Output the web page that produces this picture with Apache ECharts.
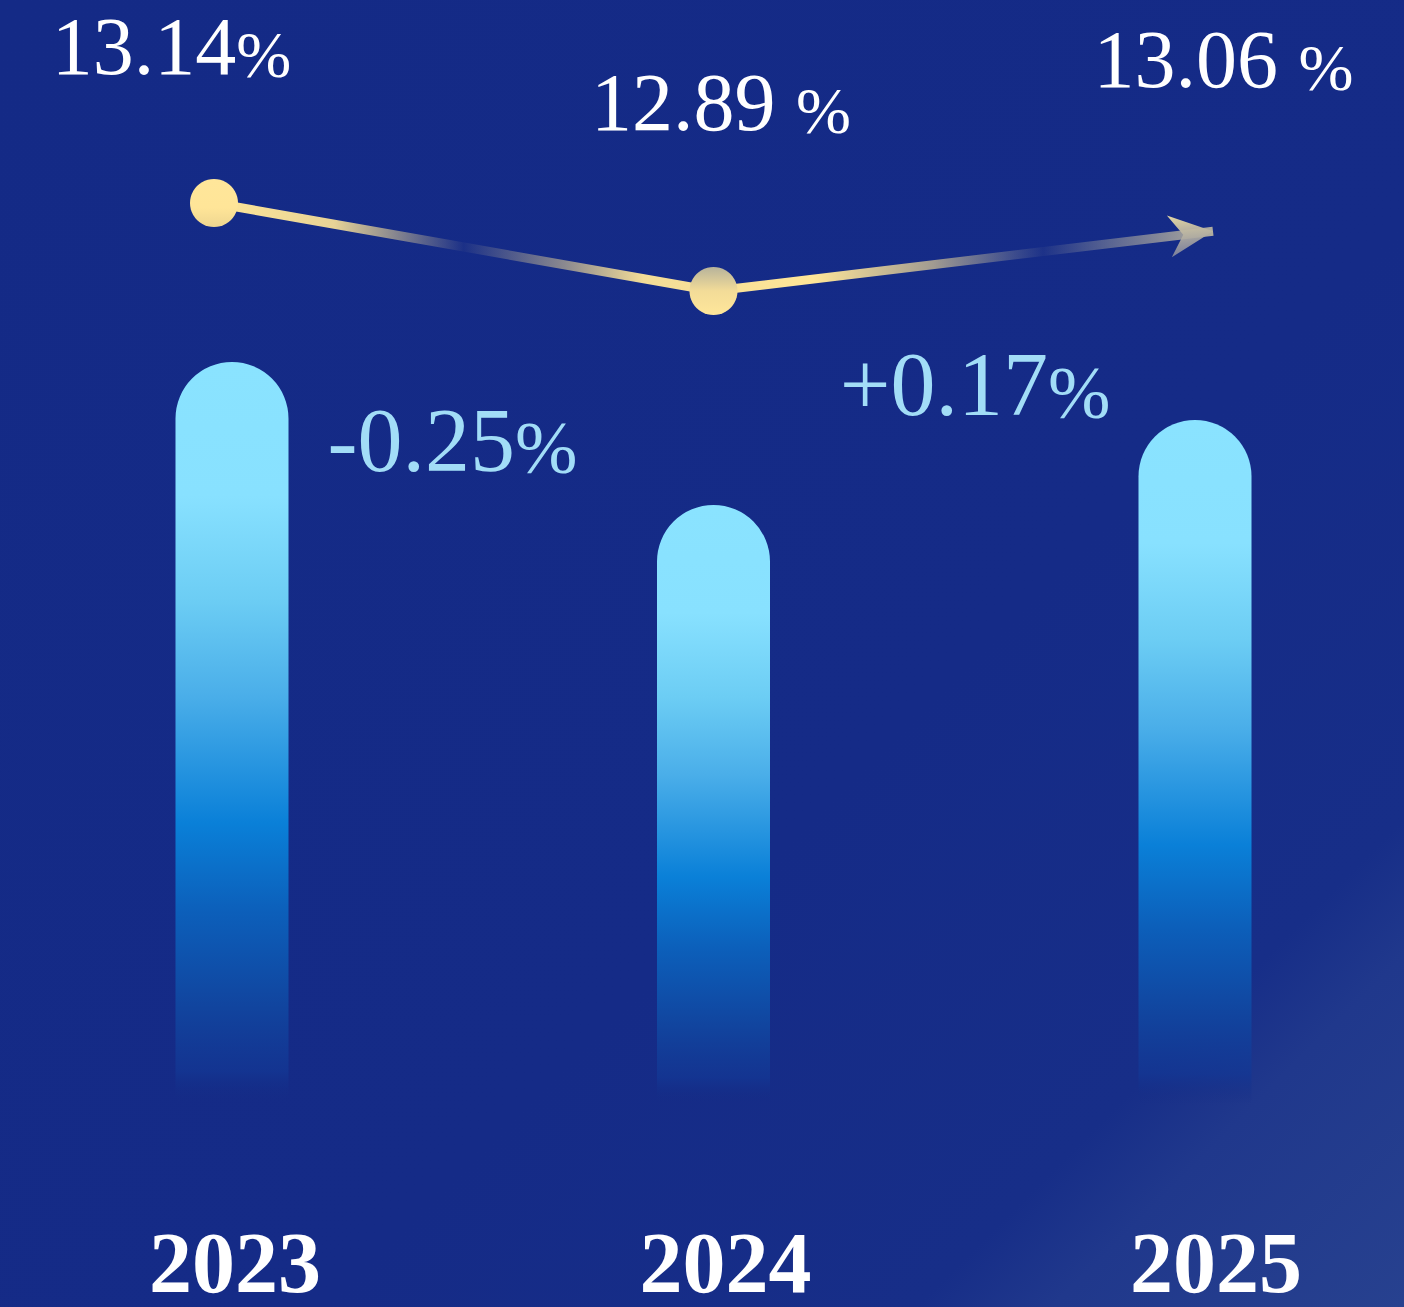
<!DOCTYPE html>
<html><head><meta charset="utf-8">
<script src="https://cdn.jsdelivr.net/npm/echarts@6/dist/echarts.min.js"></script>
<style>
html,body{margin:0;padding:0;width:1404px;height:1307px;overflow:hidden;}
#c{width:1404px;height:1307px;background:linear-gradient(135deg,#142a86 0%,#152b87 60%,#172e88 82%,#20388c 87%,#27418f 100%);}
</style></head><body><div id="c"></div>
<script>
// ---- data ----
const years = ['2023', '2024', '2025'];
const rates = [13.14, 12.89, 13.06];          // line values (%)
const rateGaps = ['', ' ', ' '];               // spacing before "%" as printed
const barHeights = [100, 80.75, 92.2];         // relative bar heights (index)
const changes = [null, -0.25, 0.17];           // change vs previous year (%)

const FONT = "'Times New Roman','Liberation Serif',serif";
const chart = echarts.init(document.getElementById('c'), null, {renderer: 'svg', width: 1404, height: 1307});

const barGrad = {type: 'linear', x: 0, y: 0, x2: 0, y2: 1, colorStops: [
  {offset: 0, color: '#8ae3ff'}, {offset: 0.18, color: '#88e1ff'},
  {offset: 0.32, color: '#6ccdf4'}, {offset: 0.45, color: '#4aaee9'},
  {offset: 0.62, color: '#0a80d8'}, {offset: 0.74, color: '#0c5fba'},
  {offset: 0.87, color: '#11449e'}, {offset: 0.955, color: 'rgba(19,55,148,0.75)'},
  {offset: 0.99, color: 'rgba(20,45,135,0.15)'}, {offset: 1, color: 'rgba(20,45,135,0)'}]};

const lineGrad = {type: 'linear', x: 214, y: 0, x2: 1213, y2: 0, global: true, colorStops: [
  {offset: 0, color: 'rgba(255,230,152,1)'}, {offset: 0.12, color: 'rgba(255,230,152,0.9)'},
  {offset: 0.25, color: 'rgba(255,230,152,0.03)'}, {offset: 0.35, color: 'rgba(255,230,152,0.5)'},
  {offset: 0.43, color: 'rgba(255,230,152,0.95)'}, {offset: 0.6, color: 'rgba(255,230,152,1)'},
  {offset: 0.72, color: 'rgba(255,230,152,0.6)'}, {offset: 0.83, color: 'rgba(230,220,170,0.04)'},
  {offset: 0.93, color: 'rgba(215,205,165,0.5)'}, {offset: 1, color: 'rgba(215,205,165,0.8)'}]};

const dotColors = [
  {type: 'linear', x: 0, y: 0, x2: 0, y2: 1, colorStops: [{offset: 0, color: '#ffe69a'}, {offset: 0.6, color: '#ffe598'}, {offset: 1, color: '#eed690'}]},
  {type: 'linear', x: 0, y: 0, x2: 0, y2: 1, colorStops: [{offset: 0, color: '#b7b39b'}, {offset: 0.5, color: '#f3dc98'}, {offset: 1, color: '#ffe69a'}]},
  {type: 'linear', x: 0, y: 0, x2: 0, y2: 1, colorStops: [{offset: 0, color: '#e6d9a4'}, {offset: 1, color: 'rgba(140,142,160,0.85)'}]}
];
const arrowPath = 'path://M0,0 L44,21 L0,42 L14,21 Z';
const lineLabelOffsets = [[-42.5, -156.5], [7.5, -188.5], [32.3, -173.8]];
const barLabelOffsets = [[0, 0], [-261, -20], [-220, 10]];

const rateRich = {
  n: {fontFamily: FONT, fontSize: 82, lineHeight: 82, color: '#ffffff'},
  p: {fontFamily: FONT, fontSize: 66, lineHeight: 66, verticalAlign: 'bottom', color: '#ffffff'}
};
const changeRich = {
  n: {fontFamily: FONT, fontSize: 90, lineHeight: 90, color: '#a2ddf7'},
  p: {fontFamily: FONT, fontSize: 75, lineHeight: 75, verticalAlign: 'bottom', color: '#a2ddf7'}
};

const hiddenAxis = (type, gi, extra) => Object.assign({
  type: type, gridIndex: gi, show: false,
  axisLine: {show: false}, axisTick: {show: false}, axisLabel: {show: false}, splitLine: {show: false}
}, extra || {});

chart.setOption({
  animation: false,
  backgroundColor: 'transparent',
  grid: [
    {left: -8.75, width: 1444.5, top: 362, height: 743, outerBoundsMode: 'none'},
    {left: -35.75, width: 1498.5, top: 76.3, height: 528, outerBoundsMode: 'none'},
    {left: -10.25, width: 1471.5, top: 0, height: 1200, outerBoundsMode: 'none'}
  ],
  xAxis: [
    hiddenAxis('category', 0, {data: years}),
    hiddenAxis('category', 1, {data: years}),
    {type: 'category', gridIndex: 2, data: years, show: true,
     axisLine: {show: false}, axisTick: {show: false}, splitLine: {show: false},
     axisLabel: {show: true, interval: 0, margin: 63, verticalAlign: 'middle', lineHeight: 76,
       color: '#ffffff', fontFamily: FONT, fontWeight: 'bold', fontSize: 86}}
  ],
  yAxis: [
    hiddenAxis('value', 0, {min: 0, max: 100}),
    hiddenAxis('value', 1, {min: 12, max: 13.5}),
    hiddenAxis('value', 2, {min: 0, max: 1})
  ],
  series: [
    {
      type: 'bar', xAxisIndex: 0, yAxisIndex: 0, barWidth: 113,
      itemStyle: {color: barGrad, borderRadius: [56.5, 56.5, 0, 0]},
      data: barHeights.map((h, i) => ({
        value: h,
        label: changes[i] == null ? {show: false} : {
          show: true, position: 'top', distance: 0, offset: barLabelOffsets[i],
          formatter: '{n|' + (changes[i] > 0 ? '+' : '') + changes[i].toFixed(2) + '}{p|%}',
          rich: changeRich
        }
      }))
    },
    {
      type: 'line', xAxisIndex: 1, yAxisIndex: 1, z: 5,
      lineStyle: {width: 9, color: lineGrad, cap: 'butt'},
      showSymbol: true, showAllSymbol: true,
      data: rates.map((v, i) => ({
        value: v,
        symbol: i === 2 ? arrowPath : 'circle',
        symbolSize: i === 2 ? [44, 42] : 48,
        symbolRotate: i === 2 ? 6.8 : 0,
        symbolOffset: i === 2 ? [-21.8, 2.6] : [0, 0],
        itemStyle: {color: dotColors[i], borderWidth: 0},
        label: {
          show: true, position: 'inside', offset: lineLabelOffsets[i],
          formatter: '{n|' + v.toFixed(2) + rateGaps[i] + '}{p|%}',
          rich: rateRich
        }
      }))
    }
  ]
});
</script></body></html>
